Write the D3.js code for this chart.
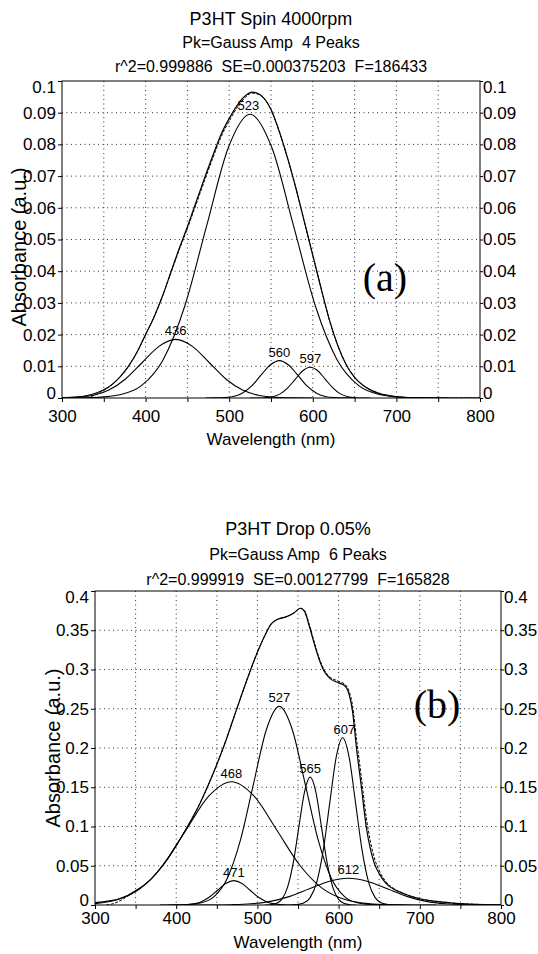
<!DOCTYPE html>
<meta charset="utf-8">
<script src="https://d3js.org/d3.v7.min.js"></script>
<style>
  body { margin: 0; background: #fff; }
  svg text { font-family: "Liberation Sans", Arial, sans-serif; fill: #000; }
  .tick text { font-size: 17px; }
  .tick line { stroke: #000; }
  .panelTag { font-family: "Liberation Serif", "Times New Roman", serif; font-size: 40px; }
</style>
<svg id="chart" width="538" height="954"></svg>
<script>
// ---- values ----
const xTickVals = [300, 350, 400, 450, 500, 550, 600, 650, 700, 750, 800];
const xTickLabels = ["300", "", "400", "", "500", "", "600", "", "700", "", "800"];

const yTicksA = [0, 0.01, 0.02, 0.03, 0.04, 0.05, 0.06, 0.07, 0.08, 0.09, 0.1];
const yLabelsA = ["0", "0.01", "0.02", "0.03", "0.04", "0.05", "0.06", "0.07", "0.08", "0.09", "0.1"];
const yTicksB = [0, 0.05, 0.1, 0.15, 0.2, 0.25, 0.3, 0.35, 0.4];
const yLabelsB = ["0", "0.05", "0.1", "0.15", "0.2", "0.25", "0.3", "0.35", "0.4"];

const titlesA = ["P3HT Spin 4000rpm", "Pk=Gauss Amp  4 Peaks", "r^2=0.999886  SE=0.000375203  F=186433"];
const titlesB = ["P3HT Drop 0.05%", "Pk=Gauss Amp  6 Peaks", "r^2=0.999919  SE=0.00127799  F=165828"];

// peak labels (nm) and peak heights
const peaksA = [436, 523, 560, 597];
const peakAmpA = [0.0185, 0.0895, 0.0118, 0.0097];
const peaksB = [468, 471, 527, 565, 607, 612];
const peakAmpB = [0.157, 0.031, 0.253, 0.163, 0.213, 0.034];

// panel (a) curves, [nm, absorbance]
const fitA = [[300,0.0001],[310,0.0002],[320,0.0004],[330,0.0008],[340,0.0015],[350,0.0026],[360,0.0043],
  [370,0.0068],[380,0.0102],[390,0.0146],[400,0.0200],[410,0.0255],[420,0.0320],[430,0.0395],[440,0.0470],
  [450,0.0540],[460,0.0615],[470,0.0690],[480,0.0762],[490,0.0830],[500,0.0882],[510,0.0925],[520,0.0955],
  [527,0.0965],[535,0.0960],[540,0.0950],[550,0.0910],[560,0.0840],[570,0.0755],[580,0.0660],[590,0.0555],
  [600,0.0450],[610,0.0345],[620,0.0245],[630,0.0165],[640,0.0105],[650,0.0065],[660,0.0040],[670,0.0024],
  [680,0.0014],[690,0.0008],[700,0.0004],[720,0.0001],[750,0],[800,0]];
const dataA = [[330,0],[340,0.0010],[350,0.0024],[360,0.0042],[370,0.0068],[380,0.0102],[390,0.0146],
  [400,0.0200],[410,0.0255],[420,0.0320],[430,0.0393],[440,0.0466],[450,0.0535],[460,0.0608],[470,0.0682],
  [480,0.0754],[490,0.0822],[500,0.0874],[510,0.0918],[520,0.0950],[527,0.0962],[535,0.0958],[540,0.0949],
  [550,0.0910],[560,0.0840],[570,0.0755],[580,0.0660],[590,0.0555],[600,0.0450],[610,0.0345],[620,0.0245],
  [630,0.0165],[640,0.0105],[650,0.0065],[660,0.0040],[670,0.0024],[680,0.0014],[690,0.0008],[700,0.0004],
  [720,0.0001],[750,0],[800,0]];
const compA436 = [[300,0.00006],[316,0.0002],[336,0.0008],[356,0.0025],[376,0.0060],[396,0.0112],[416,0.0163],
  [436,0.0185],[456,0.0163],[476,0.0112],[496,0.0060],[516,0.0025],[536,0.0008],[556,0.0002],[576,0.00004],[600,0]];
const compA523 = [[300,0],[317,0.00003],[343,0.0002],[369,0.0010],[395,0.0039],[421,0.0121],[447,0.0291],
  [473,0.0543],[499,0.0790],[525,0.0895],[551,0.0790],[577,0.0543],[603,0.0291],[629,0.0121],[655,0.0039],
  [681,0.0010],[707,0.0002],[733,0.00003],[760,0]];
const compA560 = [[472,0],[483,0.00003],[494,0.00013],[505,0.0005],[516,0.0016],[527,0.0038],[538,0.0072],
  [549,0.0104],[560,0.0118],[571,0.0104],[582,0.0072],[593,0.0038],[604,0.0016],[615,0.0005],[626,0.00013],
  [637,0.00003],[648,0]];
const compA597 = [[525,0],[534,0.00002],[543,0.0001],[552,0.0004],[561,0.0013],[570,0.0032],[579,0.0059],
  [588,0.0086],[597,0.0097],[606,0.0086],[615,0.0059],[624,0.0032],[633,0.0013],[642,0.0004],[651,0.0001],
  [660,0.00002],[669,0]];

// panel (b) curves
const fitB = [[300,0.003],[310,0.004],[320,0.0055],[330,0.008],[340,0.012],[350,0.018],[360,0.025],[370,0.034],
  [380,0.046],[390,0.060],[400,0.076],[410,0.093],[420,0.111],[430,0.131],[440,0.154],[450,0.179],[460,0.206],
  [470,0.236],[480,0.266],[490,0.295],[500,0.322],[510,0.345],[517,0.358],[525,0.364],[535,0.367],[545,0.372],
  [553,0.378],[558,0.374],[564,0.355],[570,0.333],[576,0.313],[582,0.298],[590,0.288],[600,0.283],[608,0.279],
  [613,0.268],[617,0.248],[622,0.200],[628,0.151],[634,0.100],[639,0.072],[644,0.053],[650,0.040],[658,0.028],
  [668,0.020],[679,0.015],[700,0.008],[720,0.0045],[740,0.0025],[760,0.0012],[780,0.0005],[800,0.0002]];
const dataB = [[314,0],[320,0.001],[330,0.005],[340,0.011],[350,0.018],[360,0.025],[370,0.034],[380,0.046],
  [390,0.060],[400,0.076],[410,0.093],[420,0.111],[430,0.131],[440,0.154],[450,0.179],[460,0.206],[470,0.236],
  [480,0.266],[490,0.295],[500,0.322],[510,0.345],[517,0.358],[525,0.364],[535,0.367],[545,0.372],[553,0.378],
  [558,0.375],[564,0.357],[570,0.335],[576,0.315],[582,0.300],[590,0.290],[600,0.285],[608,0.281],[613,0.272],
  [617,0.255],[622,0.212],[628,0.163],[634,0.112],[639,0.082],[644,0.060],[650,0.044],[658,0.030],[668,0.021],
  [679,0.015],[700,0.008],[720,0.0045],[740,0.0025],[760,0.0012],[780,0.0005],[800,0.0002]];
const compB468 = [[300,0.0017],[328,0.0069],[356,0.0212],[384,0.0510],[412,0.0952],[440,0.1386],[468,0.157],
  [496,0.1386],[524,0.0952],[552,0.0510],[580,0.0212],[608,0.0069],[636,0.0017],[664,0.0003],[692,0.00005],[720,0]];
const compB471 = [[391,0],[401,0.00007],[411,0.0003],[421,0.0014],[431,0.0042],[441,0.0101],[451,0.0188],
  [461,0.0274],[471,0.031],[481,0.0274],[491,0.0188],[501,0.0101],[511,0.0042],[521,0.0014],[531,0.0003],
  [541,0.00007],[551,0]];
const compB527 = [[380,0],[399,0.0001],[415,0.0006],[431,0.0028],[447,0.0111],[463,0.0342],[479,0.0822],
  [495,0.1534],[511,0.2233],[527,0.253],[543,0.2233],[559,0.1534],[575,0.0822],[591,0.0342],[607,0.0111],
  [623,0.0028],[639,0.0006],[655,0.0001],[680,0]];
const compB565 = [[509,0.00005],[516,0.0004],[523,0.0018],[530,0.0072],[537,0.0221],[544,0.0529],[551,0.0989],
  [558,0.1439],[565,0.163],[572,0.1439],[579,0.0989],[586,0.0529],[593,0.0221],[600,0.0072],[607,0.0018],
  [614,0.0004],[621,0.00005]];
const compB607 = [[541,0.00007],[549,0.0005],[557,0.0024],[565,0.0094],[573,0.0288],[581,0.0692],[589,0.1292],
  [597,0.1880],[605,0.213],[613,0.1880],[621,0.1292],[629,0.0692],[637,0.0288],[645,0.0094],[653,0.0024],
  [661,0.0005],[669,0.00007]];
const compB612 = [[420,0.00001],[444,0.00007],[468,0.0004],[492,0.0015],[516,0.0046],[540,0.0110],[564,0.0206],
  [588,0.0300],[612,0.034],[636,0.0300],[660,0.0206],[684,0.0110],[708,0.0046],[732,0.0015],[756,0.0004],
  [780,0.00007],[800,0.00002]];

const svg = d3.select("#chart");

function drawPanel(cfg) {
  const g = svg.append("g");
  const x = d3.scaleLinear().domain([300, 800]).range([cfg.left, cfg.right]);
  const y = d3.scaleLinear().domain([0, cfg.yMax]).range([cfg.bottom, cfg.top]);

  // dotted grid
  g.append("g").selectAll("line")
    .data(xTickVals.slice(1, -1)).join("line")
    .attr("x1", d => x(d)).attr("x2", d => x(d))
    .attr("y1", cfg.top).attr("y2", cfg.bottom)
    .attr("stroke", "#333").attr("stroke-width", 1).attr("stroke-dasharray", "1,3.5");
  g.append("g").selectAll("line")
    .data(cfg.yTicks.slice(1, -1)).join("line")
    .attr("x1", cfg.left).attr("x2", cfg.right)
    .attr("y1", d => y(d)).attr("y2", d => y(d))
    .attr("stroke", "#333").attr("stroke-width", 1).attr("stroke-dasharray", "1,3.5");

  // axes
  const ax = g.append("g").attr("transform", `translate(0,${cfg.bottom})`)
    .call(d3.axisBottom(x).tickValues(xTickVals).tickSize(4).tickPadding(cfg.xPad)
      .tickFormat((d, i) => xTickLabels[i]));
  const ayl = g.append("g").attr("transform", `translate(${cfg.left},0)`)
    .call(d3.axisLeft(y).tickValues(cfg.yTicks).tickSize(4).tickPadding(2)
      .tickFormat((d, i) => cfg.yLabels[i]));
  const ayr = g.append("g").attr("transform", `translate(${cfg.right},0)`)
    .call(d3.axisRight(y).tickValues(cfg.yTicks).tickSize(3).tickPadding(0)
      .tickFormat((d, i) => cfg.yLabels[i]));
  [ax, ayl, ayr].forEach(a => a.select(".domain").remove());
  // end labels sit inside the frame, like the original
  [ayl, ayr].forEach(a => {
    const t = a.selectAll(".tick text");
    t.filter((d, i) => i === 0).attr("dy", "0.05em");
    t.filter((d, i, n) => i === n.length - 1).attr("dy", "0.7em");
  });

  // frame
  g.append("rect")
    .attr("x", cfg.left).attr("y", cfg.top)
    .attr("width", cfg.right - cfg.left).attr("height", cfg.bottom - cfg.top)
    .attr("fill", "none").attr("stroke", "#000").attr("stroke-width", 1);

  // curves
  const clipId = "clip" + cfg.tag;
  g.append("clipPath").attr("id", clipId).append("rect")
    .attr("x", cfg.left).attr("y", cfg.top - 5)
    .attr("width", cfg.right - cfg.left).attr("height", cfg.bottom - cfg.top + 5);
  const line = d3.line().x(d => x(d[0])).y(d => y(d[1])).curve(d3.curveMonotoneX);
  const curves = g.append("g").attr("clip-path", `url(#${clipId})`);
  cfg.comps.forEach(c => {
    curves.append("path").attr("d", line(c))
      .attr("fill", "none").attr("stroke", "#000").attr("stroke-width", 1.1);
  });
  curves.append("path").attr("d", line(cfg.fit))
    .attr("fill", "none").attr("stroke", "#000").attr("stroke-width", 1.2);
  curves.append("path").attr("d", line(cfg.data))
    .attr("fill", "none").attr("stroke", "#000").attr("stroke-width", 1)
    .attr("stroke-dasharray", "3,1.5");

  // peak labels
  g.append("g").selectAll("text")
    .data(cfg.peaks).join("text")
    .attr("x", d => x(d))
    .attr("y", (d, i) => y(cfg.peakAmp[i]) - 4)
    .attr("text-anchor", "middle")
    .style("font-size", "13px")
    .text(d => d);

  // titles
  const cx = (cfg.left + cfg.right) / 2;
  cfg.titles.forEach((t, i) => {
    g.append("text")
      .attr("x", cx).attr("y", cfg.titleY[i])
      .attr("text-anchor", "middle")
      .style("font-size", i === 0 ? "18px" : "16px")
      .style("white-space", "pre")
      .text(t);
  });

  // axis titles
  g.append("text")
    .attr("x", cx).attr("y", cfg.xLabelY)
    .attr("text-anchor", "middle")
    .style("font-size", "17px")
    .text("Wavelength (nm)");
  g.append("text")
    .attr("transform", `translate(${cfg.yLabelX},${cfg.yLabelCy}) rotate(-90)`)
    .attr("text-anchor", "middle")
    .style("font-size", "20px")
    .text("Absorbance (a.u.)");

  // panel tag
  g.append("text")
    .attr("class", "panelTag")
    .attr("x", cfg.tagX).attr("y", cfg.tagY)
    .attr("text-anchor", "middle")
    .text(`(${cfg.tag})`);
}

drawPanel({
  tag: "a", left: 62, right: 480, top: 81, bottom: 398, yMax: 0.1,
  yTicks: yTicksA, yLabels: yLabelsA, xPad: 8,
  comps: [compA436, compA523, compA560, compA597], fit: fitA, data: dataA,
  peaks: peaksA, peakAmp: peakAmpA,
  titles: titlesA, titleY: [25, 48, 72],
  xLabelY: 445, yLabelX: 26, yLabelCy: 247,
  tagX: 385, tagY: 291
});

drawPanel({
  tag: "b", left: 95, right: 501, top: 591, bottom: 905, yMax: 0.4,
  yTicks: yTicksB, yLabels: yLabelsB, xPad: 3,
  comps: [compB468, compB471, compB527, compB565, compB607, compB612], fit: fitB, data: dataB,
  peaks: peaksB, peakAmp: peakAmpB,
  titles: titlesB, titleY: [535, 560, 585],
  xLabelY: 948, yLabelX: 60, yLabelCy: 748,
  tagX: 437, tagY: 718
});
</script>
